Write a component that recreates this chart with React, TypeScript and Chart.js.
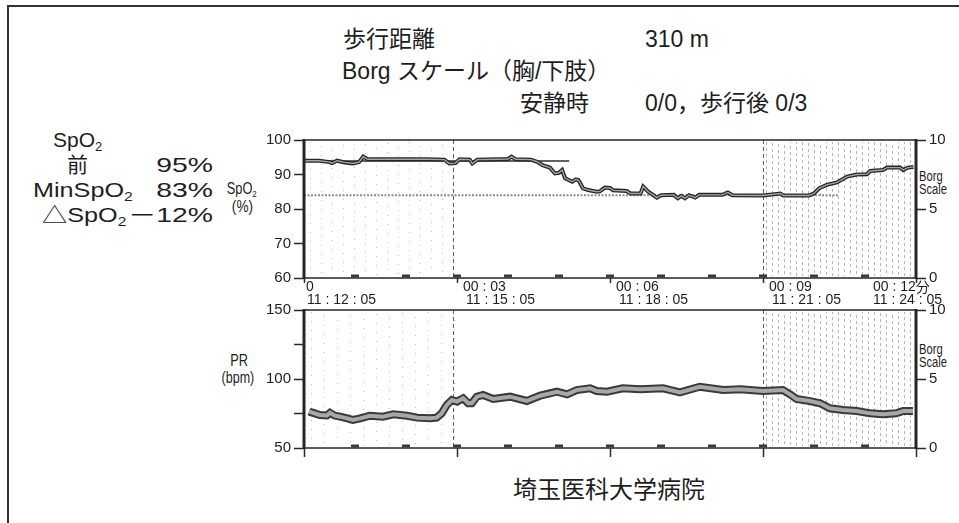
import React, { useEffect, useRef } from "react";
import { Chart, registerables } from "chart.js";

Chart.register(...registerables);

// ---- data ----
const minuteTicks = [0, 3, 6, 9, 12];
const elapsedLabels = ["0", "00 : 03", "00 : 06", "00 : 09", "00 : 12"];
const elapsedUnit = "分";
const clockLabels = ["11 : 12 : 05", "11 : 15 : 05", "11 : 18 : 05", "11 : 21 : 05", "11 : 24 : 05"];
const minuteMarks = [1, 2, 3, 4, 5, 6, 7, 8, 9, 10, 11];
const eventMinutes = [2.93, 9.0];
const sparseRegion = [0, 3];
const denseRegion = [9, 12];

const spo2Minutes = [
  0, 0.3, 0.5, 0.55, 0.65, 0.8, 0.96, 1.08, 1.16, 1.25, 1.6, 2.0, 2.4, 2.75, 2.85, 2.97,
  3.05, 3.25, 3.3, 3.4, 3.8, 4.0, 4.07, 4.15, 4.45, 4.57, 4.69, 4.82, 4.92, 5.0, 5.06,
  5.12, 5.26, 5.33, 5.38, 5.47, 5.57, 5.74, 5.8, 5.9, 6.0, 6.06, 6.33, 6.4, 6.6, 6.65,
  6.75, 6.92, 7.0, 7.25, 7.33, 7.4, 7.47, 7.55, 7.67, 7.75, 8.2, 8.31, 8.4, 9.0, 9.34,
  9.4, 9.9, 10.0, 10.1, 10.25, 10.45, 10.65, 10.84, 11.04, 11.1, 11.35, 11.43, 11.69,
  11.75, 11.84, 11.95,
];
const spo2Values = [
  94.0, 94.0, 93.6, 93.3, 94.0, 93.5, 93.2, 93.6, 95.2, 94.4, 94.4, 94.4, 94.4, 94.3, 93.2, 93.3,
  94.4, 94.3, 93.2, 94.3, 94.4, 94.5, 95.2, 94.4, 94.3, 93.7, 92.6, 92.0, 90.3, 90.5, 91.3,
  88.9, 87.9, 88.6, 88.4, 86.0, 85.5, 85.0, 85.1, 86.2, 86.1, 85.4, 85.2, 84.5, 84.5, 86.5,
  85.0, 83.3, 84.0, 84.1, 83.1, 83.8, 83.1, 84.0, 83.3, 84.1, 84.1, 84.8, 84.0, 83.9, 84.5,
  83.9, 83.9, 84.5, 86.0, 87.0, 87.7, 89.4, 90.0, 90.1, 91.0, 91.3, 92.0, 92.0,
  91.3, 92.0, 92.2,
];
const restLineMinutes = [0, 5.2];
const restLineValues = [93.9, 93.9];
const refLineMinutes = [0, 10.5];
const refLineValues = [84, 84];

const prMinutes = [
  0.1, 0.15, 0.31, 0.45, 0.51, 0.6, 0.71, 0.85, 0.96, 1.1, 1.29, 1.55, 1.75, 2.02, 2.22,
  2.47, 2.6, 2.7, 2.8, 2.9, 3.0, 3.12, 3.22, 3.29, 3.39, 3.51, 3.71, 4.04, 4.37, 4.63,
  4.96, 5.16, 5.35, 5.61, 5.74, 5.94, 6.25, 6.59, 7.04, 7.37, 7.76, 8.22, 8.55, 9.0, 9.39,
  9.53, 9.66, 9.92, 10.12, 10.31, 10.57, 10.84, 11.1, 11.35, 11.61, 11.75, 11.94,
];
const prValues = [
  76.5, 75.8, 73.9, 73.6, 75.5, 73.5, 72.7, 71.5, 70.3, 71.5, 73.4, 72.7, 74.4, 73.4, 72.0,
  71.5, 72.0, 75.1, 81.2, 84.8, 83.6, 86.0, 82.4, 82.4, 87.2, 88.4, 85.5, 87.2, 84.1, 87.9,
  90.8, 88.9, 92.0, 93.3, 91.3, 90.8, 93.3, 92.5, 93.3, 90.3, 94.4, 92.0, 92.5, 91.3, 92.0,
  88.9, 85.5, 84.0, 82.4, 78.8, 77.5, 76.8, 75.1, 74.4, 75.1, 76.8, 76.8,
];

const spo2Ticks = [60, 70, 80, 90, 100];
const spo2Labelled = [60, 70, 80, 90, 100];
const prTicks = [50, 75, 100, 125, 150];
const prLabelled = [50, 100, 150];
const borgTicks = [0, 5, 10];

// ---- helpers ----
const LATIN = '"Liberation Sans", Arial, sans-serif';
const CJK = '"Noto Sans CJK JP", sans-serif';
const pts = (xs: number[], ys: number[]) => xs.map((x, i) => ({ x, y: ys[i] }));

function hatch(ctx: any, a: any, xs: any, region: number[], step: number, dash: number[], color: string) {
  const x0 = xs.getPixelForValue(region[0]);
  const x1 = xs.getPixelForValue(region[1]);
  ctx.save();
  ctx.strokeStyle = color;
  ctx.lineWidth = 1;
  ctx.setLineDash(dash);
  let i = 0;
  for (let x = x0 + step / 2; x < x1 - 1; x += step, i++) {
    ctx.lineDashOffset = (i * 5) % (dash[0] + dash[1]);
    ctx.beginPath();
    ctx.moveTo(Math.round(x) + 0.5, a.top + 2);
    ctx.lineTo(Math.round(x) + 0.5, a.bottom - 2);
    ctx.stroke();
  }
  ctx.restore();
}

function makePlugin(cfg: { sparseStep: number; denseStep: number; timeLabels: boolean }) {
  return {
    id: "scanLook",
    beforeDatasetsDraw(chart: any) {
      const { ctx, chartArea: a } = chart;
      const xs = chart.scales.x;
      hatch(ctx, a, xs, sparseRegion, cfg.sparseStep, [1, 8], "rgba(60,60,60,0.35)");
      hatch(ctx, a, xs, denseRegion, cfg.denseStep, [3, 3], "rgba(60,60,60,0.38)");
      ctx.save();
      ctx.strokeStyle = "rgba(30,30,30,0.7)";
      ctx.lineWidth = 1;
      ctx.setLineDash([4, 3]);
      eventMinutes.forEach((m) => {
        const x = Math.round(xs.getPixelForValue(m)) + 0.5;
        ctx.beginPath();
        ctx.moveTo(x, a.top);
        ctx.lineTo(x, a.bottom);
        ctx.stroke();
      });
      ctx.restore();
    },
    afterDatasetsDraw(chart: any) {
      const { ctx, chartArea: a } = chart;
      const xs = chart.scales.x;
      ctx.save();
      ctx.strokeStyle = "#262626";
      ctx.lineWidth = 1.5;
      ctx.strokeRect(a.left, a.top, a.right - a.left, a.bottom - a.top);
      ctx.lineWidth = 3;
      ctx.beginPath();
      ctx.moveTo(a.left, a.top - 1);
      ctx.lineTo(a.left, a.bottom + 1);
      ctx.moveTo(a.right, a.top - 1);
      ctx.lineTo(a.right, a.bottom + 1);
      ctx.stroke();
      ctx.fillStyle = "#3a3a3a";
      minuteMarks.forEach((m) => {
        const x = xs.getPixelForValue(m);
        ctx.fillRect(x - 4, a.bottom - 3.5, 8, 3);
      });
      ctx.restore();
    },
    afterDraw(chart: any) {
      if (!cfg.timeLabels) return;
      const { ctx, chartArea: a } = chart;
      const xs = chart.scales.x;
      ctx.save();
      ctx.fillStyle = "#1e1e1e";
      ctx.textBaseline = "middle";
      ctx.textAlign = "left";
      const y1 = a.bottom + 9;
      const y2 = a.bottom + 22.5;
      minuteTicks.forEach((m, i) => {
        const x = xs.getPixelForValue(m);
        const last = i === minuteTicks.length - 1;
        let l1 = x + 6;
        let l2 = x + 9;
        if (i === 0) {
          l1 = x + 2;
          l2 = x + 3;
        }
        if (last) {
          l1 = x - 43;
          l2 = x - 43;
        }
        ctx.font = `14px ${LATIN}`;
        ctx.fillText(elapsedLabels[i], l1, y1);
        if (last) {
          const w = ctx.measureText(elapsedLabels[i]).width;
          ctx.font = `14px ${CJK}`;
          ctx.fillText(elapsedUnit, l1 + w, y1);
          ctx.font = `14px ${LATIN}`;
        }
        ctx.fillText(clockLabels[i], l2, y2);
      });
      ctx.restore();
    },
  };
}

function makeOptions(p: {
  yMin: number;
  yMax: number;
  yTicks: number[];
  yLabelled: number[];
  xTickLength: number;
  xAxisHeight: number;
  padTop: number;
}) {
  const tickFont = { family: LATIN, size: 15 };
  return {
    responsive: false,
    maintainAspectRatio: false,
    animation: false,
    events: [],
    layout: { padding: { top: p.padTop, left: 0, right: 0, bottom: 0 } },
    plugins: { legend: { display: false }, tooltip: { enabled: false } },
    elements: { point: { radius: 0 }, line: { tension: 0 } },
    scales: {
      x: {
        type: "linear",
        min: 0,
        max: 12,
        afterBuildTicks: (s: any) => {
          s.ticks = minuteTicks.map((v) => ({ value: v }));
        },
        ticks: { display: false },
        grid: { drawOnChartArea: false, drawTicks: true, tickLength: p.xTickLength, tickColor: "#2a2a2a", tickWidth: 1.5 },
        border: { display: false },
        afterFit: (s: any) => {
          s.height = p.xAxisHeight;
        },
      },
      y: {
        position: "left",
        min: p.yMin,
        max: p.yMax,
        afterBuildTicks: (s: any) => {
          s.ticks = p.yTicks.map((v) => ({ value: v }));
        },
        ticks: {
          font: tickFont,
          color: "#1e1e1e",
          padding: 3,
          callback: (v: any) => (p.yLabelled.includes(Number(v)) ? String(v) : ""),
        },
        grid: { drawOnChartArea: false, tickLength: 10, tickColor: "#2a2a2a", tickWidth: 1.5 },
        border: { display: false },
        afterFit: (s: any) => {
          s.width = 50;
        },
      },
      y2: {
        position: "right",
        min: 0,
        max: 10,
        afterBuildTicks: (s: any) => {
          s.ticks = borgTicks.map((v) => ({ value: v }));
        },
        ticks: { font: tickFont, color: "#1e1e1e", padding: 3, callback: (v: any) => String(v) },
        grid: { drawOnChartArea: false, tickLength: 10, tickColor: "#2a2a2a", tickWidth: 1.5 },
        border: { display: false },
        afterFit: (s: any) => {
          s.width = 43;
        },
      },
    },
  };
}

const Sub = ({ children }: any) => (
  <span style={{ fontSize: "0.62em", position: "relative", top: "0.28em" }}>{children}</span>
);

const T = ({ left, top, size, children, sx = 1, align = "left", width, family }: any) => (
  <div
    style={{
      position: "absolute",
      left,
      top,
      width,
      fontSize: size,
      lineHeight: 1,
      textAlign: align,
      whiteSpace: "nowrap",
      fontFamily: family,
    }}
  >
    <span
      style={{
        display: "inline-block",
        transform: `scaleX(${sx})`,
        transformOrigin: align === "right" ? "right center" : align === "center" ? "center center" : "left center",
      }}
    >
      {children}
    </span>
  </div>
);

export default function App() {
  const topRef = useRef<HTMLCanvasElement | null>(null);
  const botRef = useRef<HTMLCanvasElement | null>(null);

  useEffect(() => {
    const c1 = new Chart(topRef.current as HTMLCanvasElement, {
      type: "line",
      data: {
        datasets: [
          { data: pts(spo2Minutes, spo2Values), borderColor: "#a4a4a4", borderWidth: 1.4, order: 0, pointRadius: 0 },
          { data: pts(spo2Minutes, spo2Values), borderColor: "#262626", borderWidth: 4, order: 1, pointRadius: 0 },
          { data: pts(restLineMinutes, restLineValues), borderColor: "#2e2e2e", borderWidth: 1.5, order: 2, pointRadius: 0 },
          {
            data: pts(refLineMinutes, refLineValues),
            borderColor: "#8c8c8c",
            borderWidth: 2,
            borderDash: [2, 1.5],
            order: 3,
            pointRadius: 0,
          },
        ],
      },
      options: makeOptions({
        yMin: 60,
        yMax: 100,
        yTicks: spo2Ticks,
        yLabelled: spo2Labelled,
        xTickLength: 5,
        xAxisHeight: 32,
        padTop: 20,
      }) as any,
      plugins: [makePlugin({ sparseStep: 11, denseStep: 6, timeLabels: true })],
    });
    const c2 = new Chart(botRef.current as HTMLCanvasElement, {
      type: "line",
      data: {
        datasets: [
          { data: pts(prMinutes, prValues), borderColor: "#a8a8a8", borderWidth: 4, order: 0, pointRadius: 0 },
          { data: pts(prMinutes, prValues), borderColor: "#3a3a3a", borderWidth: 8, order: 1, pointRadius: 0 },
        ],
      },
      options: makeOptions({
        yMin: 50,
        yMax: 150,
        yTicks: prTicks,
        yLabelled: prLabelled,
        xTickLength: 9,
        xAxisHeight: 12,
        padTop: 15,
      }) as any,
      plugins: [makePlugin({ sparseStep: 13, denseStep: 6, timeLabels: false })],
    });
    return () => {
      c1.destroy();
      c2.destroy();
    };
  }, []);

  const headSize = 23;
  const leftSize = 21;

  return (
    <div
      style={{
        position: "fixed",
        left: 0,
        top: 0,
        width: 959,
        height: 523,
        background: "#fff",
        overflow: "hidden",
        color: "#1e1e1e",
        fontFamily: `"Liberation Sans", "Noto Sans CJK JP", sans-serif`,
      }}
    >
      <div
        style={{
          position: "absolute",
          left: 7,
          top: 5,
          width: 980,
          height: 540,
          borderTop: "2px solid #333",
          borderLeft: "2px solid #333",
        }}
      />

      {/* header */}
      <T left={343} top={28} size={headSize}>歩行距離</T>
      <T left={645} top={28} size={headSize}>310 m</T>
      <T left={342} top={60} size={headSize}>Borg スケール（胸/下肢）</T>
      <T left={520} top={92} size={headSize}>安静時</T>
      <T left={645} top={92} size={headSize}>0/0，歩行後 0/3</T>

      {/* left summary */}
      <T left={53} top={129} size={leftSize} sx={1.0}>
        SpO<Sub>2</Sub>
      </T>
      <T left={67} top={154} size={leftSize}>前</T>
      <T left={0} width={213} align="right" top={154} size={leftSize} sx={1.35}>95%</T>
      <T left={33} top={179} size={leftSize} sx={1.2}>
        MinSpO<Sub>2</Sub>
      </T>
      <T left={0} width={213} align="right" top={179} size={leftSize} sx={1.35}>83%</T>
      <T left={42} top={204} size={leftSize} sx={1.2}>
        △SpO<Sub>2</Sub>
      </T>
      <T left={0} width={213} align="right" top={204} size={leftSize} sx={1.35}>－12%</T>

      {/* axis titles */}
      <T left={222} width={40} align="center" top={181} size={16} sx={0.8}>
        SpO<Sub>2</Sub>
      </T>
      <T left={222} width={40} align="center" top={199} size={16} sx={0.85}>(%)</T>
      <T left={219} width={40} align="center" top={353} size={16} sx={0.8}>PR</T>
      <T left={217} width={40} align="center" top={370} size={16} sx={0.78}>(bpm)</T>

      <T left={919} top={169} size={14} sx={0.8}>Borg</T>
      <T left={919} top={182} size={14} sx={0.8}>Scale</T>
      <T left={919} top={342} size={14} sx={0.8}>Borg</T>
      <T left={919} top={355} size={14} sx={0.8}>Scale</T>

      {/* charts */}
      <canvas
        ref={topRef}
        width={705}
        height={190}
        style={{ position: "absolute", left: 254, top: 120, width: 705, height: 190 }}
      />
      <canvas
        ref={botRef}
        width={705}
        height={165}
        style={{ position: "absolute", left: 254, top: 295, width: 705, height: 165 }}
      />

      {/* footer */}
      <T left={409} width={400} align="center" top={478} size={24}>埼玉医科大学病院</T>
    </div>
  );
}
